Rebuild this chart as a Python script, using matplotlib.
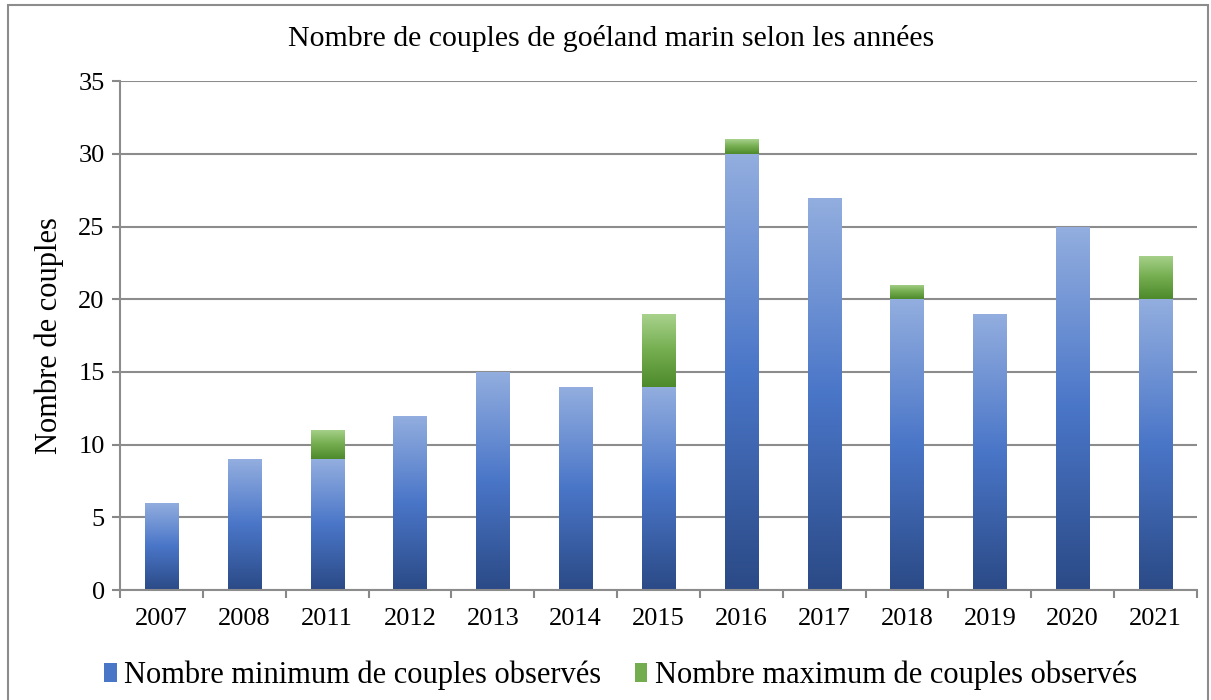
import matplotlib.pyplot as plt
import numpy as np
from matplotlib.patches import Rectangle
from matplotlib.colors import LinearSegmentedColormap

plt.rcParams['font.family'] = ['Liberation Serif', 'DejaVu Serif']

annees = ['2007', '2008', '2011', '2012', '2013', '2014', '2015',
          '2016', '2017', '2018', '2019', '2020', '2021']
minimum = [6, 9, 9, 12, 15, 14, 14, 30, 27, 20, 19, 25, 20]
maximum = [6, 9, 11, 12, 15, 14, 19, 31, 27, 21, 19, 25, 23]
ecart = [mx - mn for mx, mn in zip(maximum, minimum)]

bleu = LinearSegmentedColormap.from_list('bleu', ['#2b4a86', '#4a76c8', '#93aedf'])
vert = LinearSegmentedColormap.from_list('vert', ['#4d8a2c', '#74ad4f', '#a8d28c'])

fig = plt.figure(figsize=(12.11, 7.0), dpi=100)
ax = fig.add_axes([0.0991, 0.157, 0.8893, 0.727])

x = np.arange(len(annees))
b1 = ax.bar(x, minimum, width=0.4, color='#4a76c8', zorder=2)
b2 = ax.bar(x, ecart, width=0.4, bottom=minimum, color='#74ad4f', zorder=2)

# remplissage en dégradé par-dessus les barres
grad = np.linspace(0, 1, 256).reshape(-1, 1)
for barres, cmap in [(b1, bleu), (b2, vert)]:
    for p in barres:
        if p.get_height() <= 0:
            continue
        x0, y0 = p.get_x(), p.get_y()
        im = ax.imshow(grad, cmap=cmap, origin='lower', aspect='auto',
                       extent=(x0, x0 + p.get_width(), y0, y0 + p.get_height()),
                       zorder=2.5)
        im.set_clip_path(p)

ax.set_xlim(-0.5, len(annees) - 0.5)
ax.set_ylim(0, 35)
ax.set_yticks(range(0, 36, 5))
ax.set_xticks(x)
ax.set_xticklabels(annees)
ax.set_xticks(np.arange(-0.5, len(annees), 1), minor=True)
ax.tick_params(axis='x', which='major', length=0, labelsize=19, pad=13)
ax.tick_params(axis='x', which='minor', length=6, width=1.5, color='#888888')
ax.tick_params(axis='y', length=6, width=1.5, color='#888888', labelsize=19, pad=5)

ax.grid(axis='y', color='#8c8c8c', linewidth=1.5, zorder=0)
ax.set_axisbelow(True)
for s in ['top', 'right']:
    ax.spines[s].set_visible(False)
for s in ['left', 'bottom']:
    ax.spines[s].set_color('#8c8c8c')
    ax.spines[s].set_linewidth(1.5)

ax.set_ylabel('Nombre de couples', fontsize=22, labelpad=10)
fig.text(0.505, 0.945, 'Nombre de couples de goéland marin selon les années',
         ha='center', va='center', fontsize=21.5)

ax.legend([b1, b2], ['Nombre minimum de couples observés',
                     'Nombre maximum de couples observés'],
          loc='upper center', bbox_to_anchor=(0.465, -0.085), ncol=2, frameon=False,
          fontsize=22, handlelength=0.4, handleheight=0.6, handletextpad=0.25,
          columnspacing=1.1)

# cadre autour du graphique
fig.patches.append(Rectangle((8 / 1211, -0.02), 1200 / 1211, 1.0 - 5 / 700 + 0.02,
                             transform=fig.transFigure, fill=False,
                             edgecolor='#8c8c8c', linewidth=1.5))

fig.savefig('out.png', dpi=100)
